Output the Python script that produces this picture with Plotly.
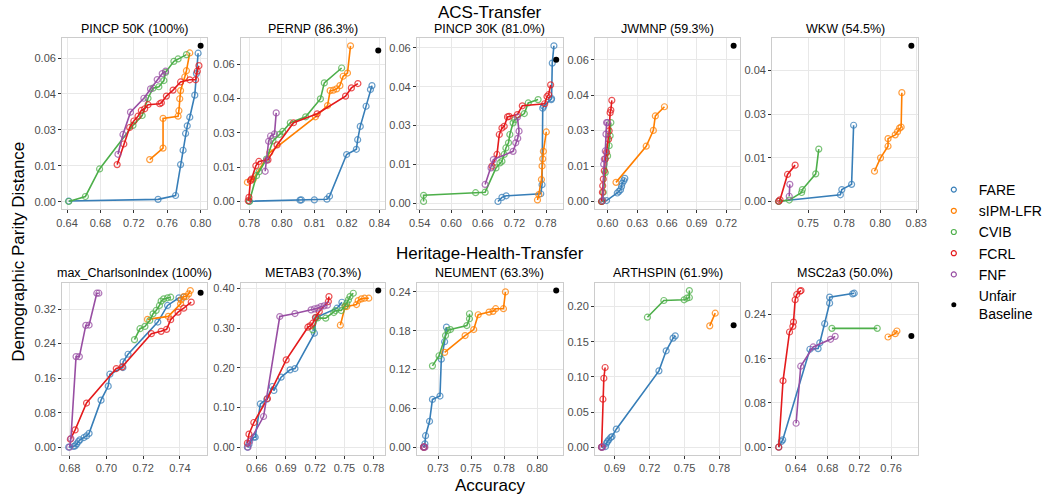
import plotly.graph_objects as go

METHODS = ["FARE", "sIPM-LFR", "CVIB", "FCRL", "FNF"]
COLORS = {"FARE": "#377EB8", "sIPM-LFR": "#FF7F00", "CVIB": "#4DAF4A",
          "FCRL": "#E41A1C", "FNF": "#984EA3"}

# ---------------- ACS-Transfer ----------------
pincp50k = {
    "FARE": ([0.642, 0.749, 0.770, 0.776, 0.779, 0.782, 0.784, 0.787, 0.793, 0.795, 0.797],
             [0.0003, 0.001, 0.0026, 0.0155, 0.0215, 0.0285, 0.0317, 0.0353, 0.0445, 0.0535, 0.062]),
    "sIPM-LFR": ([0.739, 0.755, 0.755, 0.773, 0.774, 0.775, 0.776, 0.781, 0.783, 0.787],
                 [0.0176, 0.0224, 0.0348, 0.0357, 0.038, 0.043, 0.0464, 0.0521, 0.0547, 0.0621]),
    "CVIB": ([0.642, 0.662, 0.679, 0.719, 0.730, 0.737, 0.743, 0.750, 0.756, 0.758, 0.768, 0.773, 0.783],
             [0.0001, 0.0022, 0.0137, 0.0319, 0.036, 0.0432, 0.0474, 0.048, 0.0506, 0.054, 0.0586, 0.0596, 0.0614]),
    "FCRL": ([0.700, 0.708, 0.715, 0.720, 0.725, 0.729, 0.733, 0.737, 0.751, 0.753, 0.759, 0.767, 0.776, 0.787, 0.794, 0.796, 0.798],
             [0.0155, 0.0241, 0.031, 0.0337, 0.0357, 0.0381, 0.0388, 0.0405, 0.0409, 0.0413, 0.0441, 0.0466, 0.05, 0.0509, 0.0509, 0.0545, 0.0568]),
    "FNF": ([0.701, 0.707, 0.716, 0.732, 0.740, 0.748, 0.754, 0.758],
            [0.0198, 0.0281, 0.0374, 0.0432, 0.0471, 0.051, 0.0535, 0.0545]),
}
pincp50k_base = (0.800, 0.0651)

pernp = {
    "FARE": ([0.7800, 0.8034, 0.8040, 0.8100, 0.8158, 0.8170, 0.8249, 0.8294, 0.8300, 0.8312, 0.8339, 0.8359, 0.8366],
             [0.0001, 0.0006, 0.0007, 0.0007, 0.0010, 0.0023, 0.0205, 0.0228, 0.0270, 0.0328, 0.0416, 0.0489, 0.0506]),
    "sIPM-LFR": ([0.7791, 0.7818, 0.7894, 0.8105, 0.8161, 0.8173, 0.8188, 0.8203, 0.8218, 0.8233, 0.8253, 0.8267],
                 [0.0084, 0.0097, 0.0214, 0.0370, 0.0419, 0.0484, 0.0486, 0.0492, 0.0506, 0.0547, 0.0561, 0.0680]),
    "CVIB": ([0.7800, 0.7833, 0.7845, 0.7879, 0.7909, 0.7939, 0.7954, 0.7989, 0.8060, 0.8128, 0.8146, 0.8226],
             [0.0000, 0.0113, 0.0130, 0.0185, 0.0265, 0.0293, 0.0306, 0.0344, 0.0370, 0.0448, 0.0518, 0.0583]),
    "FCRL": ([0.7795, 0.7798, 0.7805, 0.7810, 0.7830, 0.7844, 0.7886, 0.7928, 0.8004, 0.8113, 0.8244, 0.8271, 0.8301],
             [0.0004, 0.0018, 0.0091, 0.0098, 0.0156, 0.0175, 0.0182, 0.0247, 0.0344, 0.0383, 0.0460, 0.0496, 0.0515]),
    "FNF": ([0.7873, 0.7880, 0.7889, 0.7898, 0.7916, 0.7924],
            [0.0132, 0.0180, 0.0263, 0.0286, 0.0295, 0.0387]),
}
pernp_base = (0.8395, 0.0659)

pincp30k = {
    "FARE": ([0.6888, 0.6963, 0.7044, 0.7700, 0.7725, 0.7738, 0.7756, 0.7900, 0.7906, 0.7919, 0.7950],
             [0.0006, 0.0022, 0.0028, 0.0036, 0.0071, 0.0367, 0.0374, 0.0400, 0.0404, 0.0541, 0.0608]),
    "sIPM-LFR": ([0.7638, 0.7663, 0.7713, 0.7725, 0.7738, 0.7750, 0.7806],
                 [0.0012, 0.0033, 0.0091, 0.0143, 0.0171, 0.0200, 0.0275]),
    "CVIB": ([0.5475, 0.5475, 0.6463, 0.6644, 0.6850, 0.6925, 0.6963, 0.7006, 0.7038, 0.7088, 0.7113, 0.7175, 0.7206, 0.7388, 0.7463, 0.7650],
             [0.0006, 0.0030, 0.0040, 0.0042, 0.0136, 0.0155, 0.0162, 0.0188, 0.0213, 0.0233, 0.0265, 0.0310, 0.0322, 0.0346, 0.0387, 0.0400]),
    "FCRL": ([0.6775, 0.6869, 0.6913, 0.6963, 0.7006, 0.7069, 0.7100, 0.7256, 0.7350, 0.7775, 0.7819, 0.7850, 0.7888],
             [0.0143, 0.0188, 0.0265, 0.0290, 0.0297, 0.0333, 0.0335, 0.0342, 0.0376, 0.0384, 0.0412, 0.0419, 0.0457]),
    "FNF": ([0.6644, 0.6756, 0.6800, 0.7175, 0.7225, 0.7263, 0.7288, 0.7256],
            [0.0072, 0.0136, 0.0168, 0.0200, 0.0233, 0.0250, 0.0278, 0.0332]),
}
pincp30k_base = (0.7994, 0.0554)

jwmnp = {
    "FARE": ([0.5941, 0.5990, 0.6098, 0.6115, 0.6131, 0.6141, 0.6148, 0.6164, 0.6174],
             [0.0000, 0.0004, 0.0036, 0.0043, 0.0050, 0.0064, 0.0077, 0.0088, 0.0098]),
    "sIPM-LFR": ([0.6085, 0.6390, 0.6462, 0.6482, 0.6574],
                 [0.0081, 0.0234, 0.0301, 0.0362, 0.0401]),
    "CVIB": ([0.5941, 0.5951, 0.5957, 0.5977, 0.6000, 0.6016, 0.6026, 0.6033],
             [0.0000, 0.0004, 0.0039, 0.0123, 0.0193, 0.0236, 0.0278, 0.0334]),
    "FCRL": ([0.5940, 0.5948, 0.5951, 0.5957, 0.5967, 0.5977, 0.5990, 0.6010, 0.6016, 0.6026, 0.6033, 0.6043],
             [0.0000, 0.0039, 0.0067, 0.0095, 0.0130, 0.0180, 0.0208, 0.0264, 0.0299, 0.0376, 0.0387, 0.0428]),
    "FNF": ([0.5951, 0.5961, 0.5967, 0.5977, 0.5984, 0.5990, 0.6000],
            [0.0004, 0.0158, 0.0180, 0.0214, 0.0285, 0.0334, 0.0334]),
}
jwmnp_base = (0.7272, 0.0659)

wkw = {
    "FARE": ([0.7295, 0.7723, 0.7733, 0.7801, 0.7815],
             [0.0001, 0.0023, 0.0041, 0.0059, 0.0262]),
    "sIPM-LFR": ([0.7960, 0.8002, 0.8054, 0.8054, 0.8104, 0.8120, 0.8134, 0.8145, 0.8150],
                 [0.0104, 0.0150, 0.0190, 0.0216, 0.0229, 0.0240, 0.0252, 0.0256, 0.0374]),
    "CVIB": ([0.7295, 0.7368, 0.7454, 0.7459, 0.7552, 0.7573],
             [0.0000, 0.0005, 0.0031, 0.0041, 0.0095, 0.0180]),
    "FCRL": ([0.7295, 0.7304, 0.7356, 0.7409],
             [0.0001, 0.0006, 0.0093, 0.0125]),
    "FNF": ([0.7368, 0.7372],
            [0.0018, 0.0059]),
}
wkw_base = (0.8216, 0.0535)

# ---------------- Heritage-Health-Transfer ----------------
charlson = {
    "FARE": ([0.6795, 0.6821, 0.6830, 0.6839, 0.6848, 0.6856, 0.6878, 0.6892, 0.6906, 0.6971, 0.7010, 0.7019, 0.7090, 0.7091, 0.7118, 0.7280, 0.7333, 0.7395, 0.7421],
             [0.0000, 0.0015, 0.0031, 0.0077, 0.0130, 0.0170, 0.0223, 0.0260, 0.0320, 0.1090, 0.1415, 0.1692, 0.1846, 0.1977, 0.2154, 0.2900, 0.3285, 0.3462, 0.3477]),
    "sIPM-LFR": ([0.7224, 0.7337, 0.7404, 0.7407, 0.7421, 0.7435, 0.7448, 0.7457],
                 [0.2962, 0.3031, 0.3323, 0.3415, 0.3492, 0.3492, 0.3554, 0.3631]),
    "CVIB": ([0.7153, 0.7183, 0.7210, 0.7236, 0.7254, 0.7271, 0.7289, 0.7298, 0.7312, 0.7333, 0.7350],
             [0.2492, 0.2746, 0.2800, 0.2938, 0.3092, 0.3169, 0.3285, 0.3385, 0.3438, 0.3462, 0.3477]),
    "FCRL": ([0.6804, 0.6830, 0.6892, 0.7054, 0.7086, 0.7245, 0.7298, 0.7328, 0.7350, 0.7390, 0.7421, 0.7462],
             [0.0185, 0.0400, 0.1023, 0.1823, 0.1862, 0.2631, 0.2685, 0.2731, 0.2954, 0.3131, 0.3223, 0.3362]),
    "FNF": ([0.6800, 0.6807, 0.6835, 0.6853, 0.6888, 0.6906, 0.6948, 0.6959],
            [0.0000, 0.0200, 0.2100, 0.2100, 0.2823, 0.2831, 0.3569, 0.3569]),
}
charlson_base = (0.7513, 0.3577)

metab3 = {
    "FARE": ([0.6504, 0.6520, 0.6570, 0.6584, 0.6637, 0.6703, 0.6760, 0.6776, 0.6850, 0.6942, 0.6992, 0.7192, 0.7208, 0.7424, 0.7474],
             [0.0000, 0.0076, 0.0252, 0.0252, 0.1092, 0.1210, 0.1530, 0.1429, 0.1765, 0.1950, 0.1983, 0.2874, 0.3269, 0.3504, 0.3655]),
    "sIPM-LFR": ([0.7458, 0.7507, 0.7524, 0.7624, 0.7641, 0.7674, 0.7707, 0.7750],
                 [0.3076, 0.3546, 0.3546, 0.3597, 0.3697, 0.3740, 0.3756, 0.3756]),
    "CVIB": ([0.7175, 0.7225, 0.7308, 0.7391, 0.7408, 0.7467, 0.7507, 0.7524, 0.7541, 0.7557, 0.7591],
             [0.2958, 0.3260, 0.3252, 0.3395, 0.3445, 0.3445, 0.3563, 0.3630, 0.3714, 0.3798, 0.3882]),
    "FCRL": ([0.6504, 0.6520, 0.6570, 0.6710, 0.6902, 0.7125, 0.7148, 0.7175, 0.7202, 0.7242, 0.7335, 0.7341],
             [0.0101, 0.0328, 0.0622, 0.1227, 0.2202, 0.3025, 0.3059, 0.3126, 0.3269, 0.3420, 0.3672, 0.3798]),
    "FNF": ([0.6510, 0.6527, 0.6670, 0.6836, 0.6992, 0.7158, 0.7192, 0.7225, 0.7258, 0.7291, 0.7325],
            [0.0000, 0.0143, 0.0773, 0.3294, 0.3370, 0.3462, 0.3487, 0.3504, 0.3546, 0.3563, 0.3580]),
}
metab3_base = (0.7847, 0.3950)

neument = {
    "FARE": ([0.7141, 0.7151, 0.7156, 0.7186, 0.7208, 0.7265, 0.7275, 0.7300, 0.7314],
             [0.0000, 0.0052, 0.0177, 0.0400, 0.0738, 0.0790, 0.1360, 0.1630, 0.1855]),
    "sIPM-LFR": ([0.7300, 0.7455, 0.7520, 0.7554, 0.7636, 0.7666, 0.7686, 0.7745, 0.7760],
                 [0.1465, 0.1725, 0.1818, 0.2047, 0.2088, 0.2099, 0.2140, 0.2140, 0.2400]),
    "CVIB": ([0.7208, 0.7258, 0.7307, 0.7324, 0.7344, 0.7468, 0.7488, 0.7488],
             [0.1257, 0.1413, 0.1725, 0.1803, 0.1818, 0.1880, 0.1984, 0.2062]),
    "FCRL": ([0.7141, 0.7146], [0.0, 0.0]),
    "FNF": ([0.7141, 0.7151], [0.0, 0.0]),
}
neument_base = (0.8144, 0.2421)

arthspin = {
    "FARE": ([0.6788, 0.6821, 0.6830, 0.6838, 0.6849, 0.6866, 0.6877, 0.6914, 0.7280, 0.7342, 0.7401, 0.7420],
             [0.0000, 0.0009, 0.0057, 0.0080, 0.0104, 0.0137, 0.0152, 0.0256, 0.1085, 0.1370, 0.1550, 0.1583]),
    "sIPM-LFR": ([0.7716, 0.7763], [0.1725, 0.1905]),
    "CVIB": ([0.7181, 0.7322, 0.7496, 0.7519, 0.7541, 0.7541],
             [0.1848, 0.2085, 0.2095, 0.2118, 0.2128, 0.2227]),
    "FCRL": ([0.6788, 0.6799, 0.6807, 0.6818], [0.0000, 0.0682, 0.0980, 0.1133]),
    "FNF": ([0.6788, 0.6797], [0.0, 0.0]),
}
arthspin_base = (0.7921, 0.1735)

msc2a3 = {
    "FARE": ([0.6185, 0.6218, 0.6235, 0.6578, 0.6681, 0.6702, 0.6764, 0.6826, 0.6826, 0.7116, 0.7136],
             [0.0000, 0.0102, 0.0132, 0.1770, 0.1782, 0.1884, 0.2232, 0.2604, 0.2712, 0.2772, 0.2784]),
    "sIPM-LFR": ([0.7562, 0.7653, 0.7674], [0.1992, 0.2052, 0.2100]),
    "CVIB": ([0.6855, 0.7426], [0.2148, 0.2148]),
    "FCRL": ([0.6185, 0.6239, 0.6321, 0.6363, 0.6371, 0.6392, 0.6412, 0.6454, 0.6466],
             [0.0000, 0.1200, 0.2082, 0.2184, 0.2262, 0.2664, 0.2760, 0.2820, 0.2832]),
    "FNF": ([0.6404, 0.6462, 0.6619, 0.6838, 0.6896],
            [0.0432, 0.1464, 0.1812, 0.1950, 0.2004]),
}
msc2a3_base = (0.7856, 0.2010)

# ---------------- titles and ticks ----------------
titles = ["PINCP 50K (100%)", "PERNP (86.3%)", "PINCP 30K (81.0%)", "JWMNP (59.3%)", "WKW (54.5%)",
          "max_CharlsonIndex (100%)", "METAB3 (70.3%)", "NEUMENT (63.3%)", "ARTHSPIN (61.9%)", "MSC2a3 (50.0%)"]

y_acs_vals = [0, 0.015, 0.03, 0.045, 0.06]
y_acs_text = ["0.00", "0.01", "0.03", "0.04", "0.06"]

xticks = [
    ([0.64, 0.68, 0.72, 0.76, 0.80], ["0.64", "0.68", "0.72", "0.76", "0.80"]),
    ([0.78, 0.795, 0.81, 0.825, 0.84], ["0.78", "0.80", "0.81", "0.82", "0.84"]),
    ([0.54, 0.60, 0.66, 0.72, 0.78], ["0.54", "0.60", "0.66", "0.72", "0.78"]),
    ([0.60, 0.63, 0.66, 0.69, 0.72], ["0.60", "0.63", "0.66", "0.69", "0.72"]),
    ([0.75, 0.775, 0.80, 0.825], ["0.75", "0.78", "0.80", "0.83"]),
    ([0.68, 0.70, 0.72, 0.74], ["0.68", "0.70", "0.72", "0.74"]),
    ([0.66, 0.69, 0.72, 0.75, 0.78], ["0.66", "0.69", "0.72", "0.75", "0.78"]),
    ([0.725, 0.75, 0.775, 0.80], ["0.73", "0.75", "0.78", "0.80"]),
    ([0.69, 0.72, 0.75, 0.78], ["0.69", "0.72", "0.75", "0.78"]),
    ([0.64, 0.68, 0.72, 0.76], ["0.64", "0.68", "0.72", "0.76"]),
]
yticks = [
    (y_acs_vals, y_acs_text),
    (y_acs_vals, y_acs_text),
    (y_acs_vals, y_acs_text),
    (y_acs_vals, y_acs_text),
    ([0, 0.015, 0.03, 0.045], ["0.00", "0.01", "0.03", "0.04"]),
    ([0, 0.08, 0.16, 0.24, 0.32], ["0.00", "0.08", "0.16", "0.24", "0.32"]),
    ([0, 0.1, 0.2, 0.3, 0.4], ["0.00", "0.10", "0.20", "0.30", "0.40"]),
    ([0, 0.06, 0.12, 0.18, 0.24], ["0.00", "0.06", "0.12", "0.18", "0.24"]),
    ([0, 0.05, 0.10, 0.15, 0.20], ["0.00", "0.05", "0.10", "0.15", "0.20"]),
    ([0, 0.08, 0.16, 0.24], ["0.00", "0.08", "0.16", "0.24"]),
]

panels = [(pincp50k, pincp50k_base), (pernp, pernp_base), (pincp30k, pincp30k_base),
          (jwmnp, jwmnp_base), (wkw, wkw_base), (charlson, charlson_base),
          (metab3, metab3_base), (neument, neument_base), (arthspin, arthspin_base),
          (msc2a3, msc2a3_base)]

W, H = 1048, 494


def fx(px):
    return px / W


def fy(py):
    return 1 - py / H


col_px = [(55, 202.5), (236.7, 383), (415.7, 564), (596.7, 744.3), (776.7, 925)]
row_px = [(38, 209.3), (282.7, 455)]
FONT = "Liberation Sans"

fig = go.Figure()
layout = {}
annotations = []

for i, (data, base) in enumerate(panels):
    n = i + 1
    xa = "x" if n == 1 else f"x{n}"
    ya = "y" if n == 1 else f"y{n}"
    for m in METHODS:
        xs, ys = data[m]
        fig.add_trace(go.Scatter(
            x=xs, y=ys, mode="lines+markers", xaxis=xa, yaxis=ya, showlegend=False,
            line=dict(color=COLORS[m], width=1.6),
            marker=dict(symbol="circle-open", size=6, color=COLORS[m], opacity=0.75,
                        line=dict(width=1.2, color=COLORS[m])),
            name=m, hoverinfo="skip"))
    fig.add_trace(go.Scatter(x=[base[0]], y=[base[1]], mode="markers", xaxis=xa, yaxis=ya,
                             showlegend=False, marker=dict(color="black", size=6),
                             name="Unfair Baseline"))
    allx = [v for m in METHODS for v in data[m][0]] + [base[0]]
    ally = [v for m in METHODS for v in data[m][1]] + [base[1]]
    dx = (max(allx) - min(allx)) * 0.05
    dy = (max(ally) - min(ally)) * 0.05
    r, c = divmod(i, 5)
    x0, x1 = col_px[c]
    y0, y1 = row_px[r]
    common = dict(showgrid=True, gridcolor="#E8E8E8", gridwidth=1, zeroline=False,
                  showline=True, linecolor="#CCCCCC", linewidth=1, mirror=True,
                  ticks="outside", ticklen=3, tickcolor="#333333", tickwidth=1,
                  tickfont=dict(size=11, color="#4D4D4D", family=FONT))
    layout["xaxis" if n == 1 else f"xaxis{n}"] = dict(
        domain=[fx(x0), fx(x1)], range=[min(allx) - dx, max(allx) + dx],
        anchor=ya, tickvals=xticks[i][0], ticktext=xticks[i][1], **common)
    layout["yaxis" if n == 1 else f"yaxis{n}"] = dict(
        domain=[fy(y1), fy(y0)], range=[min(ally) - dy, max(ally) + dy],
        anchor=xa, tickvals=yticks[i][0], ticktext=yticks[i][1], **common)
    annotations.append(dict(text=titles[i], x=fx((x0 + x1) / 2), y=fy(y0 - 9.5),
                            xref="paper", yref="paper", showarrow=False,
                            xanchor="center", yanchor="middle",
                            font=dict(size=12.5, color="black", family=FONT)))

# legend-only traces
for m in METHODS:
    fig.add_trace(go.Scatter(x=[None], y=[None], mode="markers", name=m,
                             marker=dict(symbol="circle-open", size=5, color=COLORS[m],
                                         line=dict(width=1.2, color=COLORS[m]))))
fig.add_trace(go.Scatter(x=[None], y=[None], mode="markers", name="Unfair<br>Baseline",
                         marker=dict(color="black", size=5)))


def big_label(text, x, y, angle=0):
    return dict(text=text, x=fx(x), y=fy(y), xref="paper", yref="paper", showarrow=False,
                xanchor="center", yanchor="middle", textangle=angle,
                font=dict(size=17, color="black", family=FONT))


annotations += [
    big_label("ACS-Transfer", 490, 12),
    big_label("Heritage-Health-Transfer", 490, 254),
    big_label("Accuracy", 490, 485),
    big_label("Demographic Parity Distance", 10, 252, -90),
]

fig.update_layout(
    width=W, height=H, margin=dict(l=0, r=0, t=0, b=0),
    paper_bgcolor="white", plot_bgcolor="white",
    font=dict(family=FONT),
    annotations=annotations,
    legend=dict(x=fx(936), y=fy(174), xanchor="left", yanchor="top",
                font=dict(size=14, color="black", family=FONT), itemwidth=40,
                bgcolor="rgba(0,0,0,0)", tracegroupgap=0, itemsizing="trace"),
    **layout,
)

# remove the browser's default 8px body margin so the figure fills the window exactly
fig.write_html("out.html", config={"displayModeBar": False},
               post_script="document.body.style.margin='0';")
